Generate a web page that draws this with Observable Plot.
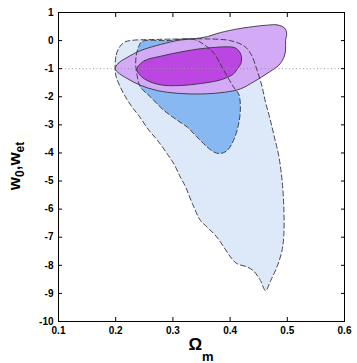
<!DOCTYPE html>
<html>
<head>
<meta charset="utf-8">
<script src="https://cdn.jsdelivr.net/npm/d3@7"></script>
<script src="https://cdn.jsdelivr.net/npm/@observablehq/plot@0.6"></script>
<style>
  html, body { margin: 0; padding: 0; background: #fff; }
  #chart svg { display: block; }
</style>
</head>
<body>
<div id="chart"></div>
<script>
// Tick values
const xTicks = [0.1, 0.2, 0.3, 0.4, 0.5, 0.6];
const yTicks = [1, 0, -1, -2, -3, -4, -5, -6, -7, -8, -9, -10];
const referenceW = -1;

// Outer (light blue) contour, [Omega_m, w]
const lightBlue = [
  [0.199,-1.0],[0.201,-0.5],[0.207,-0.22],[0.216,-0.05],[0.229,0.01],[0.27,0.04],[0.32,0.06],
  [0.36,0.06],[0.40,0.0],[0.425,-0.2],[0.437,-0.5],[0.447,-1.05],[0.456,-1.65],[0.462,-2.2],
  [0.47,-2.8],[0.477,-3.4],[0.485,-4.1],[0.491,-5.0],[0.494,-6.0],[0.494,-6.9],[0.491,-7.45],
  [0.482,-8.05],[0.471,-8.54],[0.462,-8.9],[0.453,-8.54],[0.441,-8.2],[0.43,-8.06],[0.412,-7.94],
  [0.401,-7.71],[0.389,-7.35],[0.377,-7.0],[0.36,-6.64],[0.348,-6.4],[0.334,-5.8],[0.322,-5.2],
  [0.313,-4.86],[0.302,-4.4],[0.29,-4.03],[0.273,-3.55],[0.258,-3.19],[0.242,-2.72],[0.228,-2.35],
  [0.217,-2.0],[0.208,-1.65],[0.201,-1.3]
];
// Inner (medium blue) contour
const midBlue = [
  [0.246,-0.03],[0.29,0.0],[0.335,0.05],[0.355,-0.15],[0.372,-0.46],[0.389,-1.06],[0.406,-1.65],
  [0.415,-1.9],[0.418,-2.36],[0.415,-2.96],[0.406,-3.55],[0.395,-3.91],[0.383,-4.02],[0.372,-3.97],
  [0.36,-3.79],[0.342,-3.43],[0.325,-3.08],[0.308,-2.84],[0.284,-2.48],[0.261,-2.01],[0.243,-1.65],
  [0.238,-1.3],[0.235,-0.88],[0.236,-0.52],[0.240,-0.22]
];
// Outer (light purple) contour
const lightPurple = [
  [0.199,-1.0],[0.205,-0.8],[0.22,-0.6],[0.243,-0.36],[0.278,-0.14],[0.313,0.02],[0.335,0.06],
  [0.36,0.14],[0.377,0.25],[0.406,0.39],[0.441,0.5],[0.465,0.55],[0.482,0.56],[0.495,0.45],
  [0.499,0.25],[0.497,0.01],[0.497,-0.34],[0.494,-0.6],[0.485,-0.88],[0.47,-1.1],[0.455,-1.3],
  [0.441,-1.47],[0.418,-1.72],[0.39,-1.84],[0.35,-1.9],[0.31,-1.88],[0.273,-1.78],[0.243,-1.59],
  [0.22,-1.35],[0.203,-1.12]
];
// Inner (dark purple) contour
const darkPurple = [
  [0.237,-1.0],[0.25,-0.72],[0.28,-0.55],[0.315,-0.40],[0.348,-0.29],[0.375,-0.24],[0.395,-0.22],
  [0.41,-0.27],[0.419,-0.5],[0.419,-0.8],[0.413,-1.0],[0.405,-1.2],[0.383,-1.4],[0.348,-1.53],
  [0.313,-1.6],[0.28,-1.58],[0.255,-1.42],[0.242,-1.22]
];

const curve = "catmull-rom-closed";
const fillMark = (data, color) => Plot.line(data, {x: d => d[0], y: d => d[1], curve, fill: color, stroke: "none"});
const dashMark = (data) => Plot.line(data, {x: d => d[0], y: d => d[1], curve, fill: "none", stroke: "#333", strokeWidth: 0.9, strokeDasharray: "5,3"});
const solidMark = (data) => Plot.line(data, {x: d => d[0], y: d => d[1], curve, fill: "none", stroke: "#3a3040", strokeWidth: 0.9});

const fontOpts = {fontSize: 10, fontWeight: "bold"};

const chart = Plot.plot({
  width: 357,
  height: 363,
  marginLeft: 58,
  marginRight: 13,
  marginTop: 12,
  marginBottom: 42,
  style: {fontFamily: "'Liberation Sans', Arial, Helvetica, sans-serif", color: "#000", background: "#fff"},
  x: {domain: [0.1, 0.6], label: null},
  y: {domain: [-10, 1], label: null},
  marks: [
    fillMark(lightBlue, "#dde9f8"),
    fillMark(midBlue, "#88b8f2"),
    fillMark(lightPurple, "#d3aaf6"),
    fillMark(darkPurple, "#bb46e2"),
    solidMark(lightPurple),
    solidMark(darkPurple),
    dashMark(lightBlue),
    dashMark(midBlue),
    Plot.ruleY([referenceW], {stroke: "#999", strokeWidth: 1, strokeDasharray: "1,2.5"}),
    Plot.frame({stroke: "#000", strokeWidth: 1}),
    Plot.axisX({anchor: "bottom", ticks: xTicks, tickSize: 0, tickPadding: 5, tickFormat: d => d.toFixed(1), ...fontOpts}),
    Plot.axisY({anchor: "left", ticks: yTicks, tickSize: 0, tickPadding: 5, tickFormat: d => String(d), ...fontOpts}),
    Plot.axisX({anchor: "bottom", ticks: xTicks, tickSize: 4, dy: -4, tickFormat: () => ""}),
    Plot.axisX({anchor: "top", ticks: xTicks, tickSize: 4, dy: 4, tickFormat: () => ""}),
    Plot.axisY({anchor: "left", ticks: yTicks, tickSize: 4, dx: 4, tickFormat: () => ""}),
    Plot.axisY({anchor: "right", ticks: yTicks, tickSize: 4, dx: -4, tickFormat: () => ""})
  ]
});

document.getElementById("chart").appendChild(chart);

// Axis titles with subscripts
const svg = d3.select(chart);
const ylab = svg.append("text")
  .attr("transform", "translate(20,166) rotate(-90)")
  .attr("text-anchor", "middle")
  .attr("font-size", 17)
  .attr("font-weight", "bold")
  .attr("fill", "#000");
ylab.append("tspan").text("w");
ylab.append("tspan").attr("dy", 4).attr("font-size", 12).text("0");
ylab.append("tspan").attr("dy", -4).text(",w");
ylab.append("tspan").attr("dy", 4).attr("font-size", 12).text("et");

const xlab = svg.append("text")
  .attr("x", 201)
  .attr("y", 350)
  .attr("text-anchor", "middle")
  .attr("font-size", 17)
  .attr("font-weight", "bold")
  .attr("fill", "#000");
xlab.append("tspan").text("Ω");
xlab.append("tspan").attr("dy", 11).attr("font-size", 13).text("m");
</script>
</body>
</html>
